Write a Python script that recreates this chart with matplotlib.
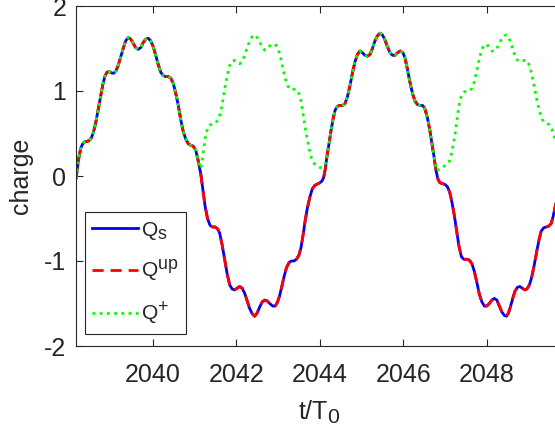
import numpy as np
import matplotlib
import matplotlib.pyplot as plt
import matplotlib._mathtext as mtext

plt.rcParams['font.family'] = ['Liberation Sans', 'DejaVu Sans']
plt.rcParams['mathtext.fontset'] = 'custom'
plt.rcParams['mathtext.rm'] = 'Liberation Sans'
plt.rcParams['mathtext.it'] = 'Liberation Sans'
plt.rcParams['axes.unicode_minus'] = False
# bigger sub/superscripts, closer to the original look
mtext.SHRINK_FACTOR = 0.85

# Q_s (Q^up sits exactly on top of it)
t_s = [2038.16, 2038.19, 2038.23, 2038.27, 2038.31, 2038.36, 2038.42, 2038.48,
       2038.53, 2038.58, 2038.63, 2038.69, 2038.75, 2038.80, 2038.85, 2038.90,
       2038.96, 2039.02, 2039.07, 2039.12, 2039.17, 2039.23, 2039.29, 2039.35,
       2039.41, 2039.47, 2039.53, 2039.59, 2039.65, 2039.71, 2039.77, 2039.83,
       2039.89, 2039.95, 2040.01, 2040.07, 2040.13, 2040.19, 2040.25, 2040.31,
       2040.37, 2040.43, 2040.49, 2040.55, 2040.61, 2040.67, 2040.73, 2040.79,
       2040.85, 2040.91, 2040.97, 2041.03, 2041.09, 2041.15, 2041.20, 2041.25,
       2041.31, 2041.37, 2041.43, 2041.49, 2041.55, 2041.60, 2041.66, 2041.72,
       2041.78, 2041.84, 2041.90, 2041.96, 2042.02, 2042.08, 2042.14, 2042.20,
       2042.26, 2042.32, 2042.38, 2042.44, 2042.50, 2042.56, 2042.62, 2042.68,
       2042.74, 2042.80, 2042.87, 2042.93, 2042.98, 2043.03, 2043.08, 2043.14,
       2043.20, 2043.26, 2043.32, 2043.38, 2043.44, 2043.50, 2043.55, 2043.60,
       2043.65, 2043.70, 2043.76, 2043.82, 2043.88, 2043.94, 2044.00, 2044.05,
       2044.09, 2044.13, 2044.17, 2044.22, 2044.27, 2044.32, 2044.37, 2044.42,
       2044.48, 2044.54, 2044.60, 2044.66, 2044.72, 2044.78, 2044.84, 2044.90,
       2044.96, 2045.02, 2045.08, 2045.14, 2045.20, 2045.26, 2045.32, 2045.38,
       2045.44, 2045.50, 2045.56, 2045.62, 2045.68, 2045.74, 2045.80, 2045.86,
       2045.93, 2045.99, 2046.04, 2046.10, 2046.16, 2046.22, 2046.28, 2046.34,
       2046.40, 2046.46, 2046.51, 2046.57, 2046.63, 2046.68, 2046.73, 2046.78,
       2046.83, 2046.88, 2046.94, 2047.00, 2047.06, 2047.11, 2047.16, 2047.22,
       2047.27, 2047.33, 2047.39, 2047.45, 2047.52, 2047.58, 2047.64, 2047.70,
       2047.76, 2047.82, 2047.88, 2047.94, 2048.00, 2048.06, 2048.12, 2048.18,
       2048.24, 2048.30, 2048.36, 2048.42, 2048.47, 2048.52, 2048.57, 2048.62,
       2048.67, 2048.73, 2048.79, 2048.85, 2048.91, 2048.96, 2049.02, 2049.07,
       2049.13, 2049.19, 2049.25, 2049.30, 2049.36, 2049.42, 2049.48, 2049.54,
       2049.59, 2049.65]
q_s = [-0.03, 0.08, 0.22, 0.32, 0.37, 0.40, 0.405, 0.42,
       0.45, 0.52, 0.62, 0.78, 0.94, 1.07, 1.17, 1.22,
       1.23, 1.21, 1.21, 1.24, 1.30, 1.40, 1.50, 1.59,
       1.63, 1.61, 1.56, 1.51, 1.49, 1.51, 1.57, 1.61,
       1.62, 1.59, 1.52, 1.42, 1.31, 1.22, 1.18, 1.17,
       1.17, 1.15, 1.09, 0.97, 0.83, 0.66, 0.52, 0.43,
       0.38, 0.36, 0.35, 0.30, 0.17, 0.02, -0.17, -0.35,
       -0.50, -0.58, -0.60, -0.60, -0.62, -0.67, -0.81, -0.98,
       -1.15, -1.28, -1.33, -1.34, -1.32, -1.30, -1.32, -1.38,
       -1.47, -1.56, -1.62, -1.65, -1.61, -1.54, -1.48, -1.46,
       -1.47, -1.50, -1.53, -1.53, -1.49, -1.42, -1.32, -1.19,
       -1.08, -1.02, -1.00, -1.00, -0.98, -0.93, -0.84, -0.69,
       -0.52, -0.38, -0.25, -0.15, -0.11, -0.095, -0.08, -0.06,
       -0.02, 0.08, 0.23, 0.38, 0.54, 0.68, 0.78, 0.82,
       0.83, 0.83, 0.85, 0.93, 1.06, 1.21, 1.34, 1.43,
       1.47, 1.45, 1.42, 1.41, 1.43, 1.50, 1.59, 1.65,
       1.68, 1.66, 1.60, 1.52, 1.45, 1.42, 1.42, 1.45,
       1.47, 1.45, 1.39, 1.25, 1.10, 0.97, 0.88, 0.84,
       0.83, 0.83, 0.80, 0.70, 0.55, 0.40, 0.24, 0.07,
       -0.04, -0.08, -0.09, -0.10, -0.13, -0.19, -0.30, -0.46,
       -0.62, -0.82, -0.95, -0.98, -0.98, -0.99, -1.03, -1.12,
       -1.25, -1.39, -1.48, -1.53, -1.53, -1.50, -1.46, -1.44,
       -1.46, -1.53, -1.60, -1.64, -1.65, -1.61, -1.53, -1.44,
       -1.36, -1.31, -1.30, -1.32, -1.34, -1.33, -1.28, -1.20,
       -1.06, -0.90, -0.75, -0.65, -0.61, -0.60, -0.59, -0.56,
       -0.47, -0.33]
q_up = list(q_s)

# Q^+ where it leaves Q_s
t_p1 = [2041.12, 2041.15, 2041.18, 2041.22, 2041.26, 2041.31, 2041.37, 2041.43,
        2041.50, 2041.56, 2041.62, 2041.67, 2041.72, 2041.78, 2041.83, 2041.89,
        2041.96, 2042.02, 2042.08, 2042.14, 2042.20, 2042.26, 2042.32, 2042.38,
        2042.44, 2042.50, 2042.56, 2042.62, 2042.68, 2042.74, 2042.80, 2042.87,
        2042.93, 2042.99, 2043.05, 2043.10, 2043.16, 2043.22, 2043.28, 2043.35,
        2043.43, 2043.49, 2043.54, 2043.58, 2043.62, 2043.66, 2043.70, 2043.75,
        2043.80, 2043.86, 2043.93, 2044.00, 2044.06, 2044.11, 2044.14]
q_p1 = [0.11, 0.09, 0.17, 0.33, 0.46, 0.56, 0.60, 0.61,
        0.62, 0.66, 0.74, 0.87, 1.02, 1.18, 1.29, 1.35,
        1.36, 1.34, 1.32, 1.35, 1.42, 1.51, 1.59, 1.64,
        1.66, 1.63, 1.58, 1.51, 1.48, 1.50, 1.53, 1.55,
        1.55, 1.51, 1.42, 1.30, 1.17, 1.07, 1.02, 1.02,
        1.02, 0.98, 0.90, 0.79, 0.66, 0.54, 0.43, 0.31,
        0.21, 0.15, 0.12, 0.10, 0.10, 0.12, 0.15]
t_p2 = [2046.80, 2046.86, 2046.93, 2046.99, 2047.05, 2047.10, 2047.15, 2047.20,
        2047.25, 2047.30, 2047.35, 2047.40, 2047.46, 2047.52, 2047.58, 2047.64,
        2047.70, 2047.76, 2047.82, 2047.88, 2047.94, 2048.00, 2048.06, 2048.12,
        2048.18, 2048.24, 2048.30, 2048.36, 2048.42, 2048.47, 2048.52, 2048.58,
        2048.64, 2048.70, 2048.76, 2048.83, 2048.90, 2048.96, 2049.02, 2049.08,
        2049.14, 2049.20, 2049.26, 2049.32, 2049.38, 2049.44, 2049.50, 2049.56,
        2049.61, 2049.65]
q_p2 = [0.06, 0.08, 0.10, 0.12, 0.14, 0.17, 0.26, 0.38,
        0.53, 0.72, 0.88, 0.96, 0.99, 1.00, 1.00, 1.03,
        1.11, 1.24, 1.38, 1.49, 1.54, 1.55, 1.51, 1.47,
        1.47, 1.50, 1.56, 1.62, 1.65, 1.66, 1.63, 1.56,
        1.46, 1.38, 1.35, 1.35, 1.36, 1.36, 1.30, 1.19,
        1.04, 0.89, 0.76, 0.67, 0.63, 0.62, 0.60, 0.55,
        0.47, 0.40]

ts = np.array(t_s)
qs = np.array(q_s)
m1 = ts < 2041.11
m2 = (ts > 2044.15) & (ts < 2046.75)
t_plus = np.concatenate([ts[m1], t_p1, ts[m2], t_p2])
q_plus = np.concatenate([qs[m1], q_p1, qs[m2], q_p2])

fig = plt.figure(figsize=(5.55, 4.42), dpi=100)
ax = fig.add_axes([76 / 555, 96 / 442, 486 / 555, 340 / 442])

lw = 2.0
ax.plot(t_s, q_s, color=(0, 0, 1), lw=lw, solid_joinstyle='round',
        label=r'Q$_\mathregular{s}$')
ax.plot(t_s, q_up, color=(1, 0, 0), lw=lw, ls=(0, (4, 2.5)), dash_joinstyle='round',
        label=r'Q$^\mathregular{up}$')
ax.plot(t_plus, q_plus, color=(0, 1, 0), lw=lw, ls=(0, (1, 1.6)),
        label=r'Q$^\mathregular{+}$')

ax.set_xlim(2038.16, 2049.80)
ax.set_ylim(-2, 2)
ax.set_xticks([2040, 2042, 2044, 2046, 2048])
ax.set_yticks([-2, -1, 0, 1, 2])

grey = (0.15, 0.15, 0.15)
for s in ax.spines.values():
    s.set_color(grey)
    s.set_linewidth(0.8)
ax.tick_params(direction='in', length=5, width=0.8, colors=grey, labelsize=18,
               top=True, right=True)
ax.tick_params(axis='x', pad=12)
ax.tick_params(axis='y', pad=7)
ax.set_xlabel(r't/T$_\mathregular{0}$', fontsize=18, color=grey, labelpad=9)
ax.set_ylabel('charge', fontsize=18, color=grey, labelpad=8)

leg = ax.legend(loc='lower left', bbox_to_anchor=(0.0185, 0.035), borderaxespad=0,
                fontsize=15, handlelength=2.2, handletextpad=0.15, labelspacing=0.75,
                borderpad=0.35, fancybox=False, framealpha=1)
leg.get_frame().set_edgecolor(grey)
leg.get_frame().set_linewidth(0.8)
for txt in leg.get_texts():
    txt.set_color(grey)

fig.savefig('out.png', dpi=100)
